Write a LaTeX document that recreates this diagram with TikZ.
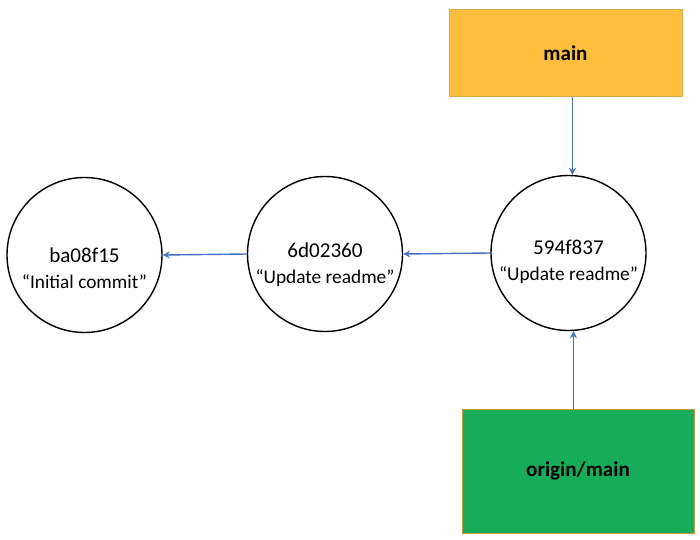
\documentclass[tikz,border=0pt]{standalone}
\usepackage{fontspec}
\setmainfont{Carlito}
\usepackage{xcolor}
\usetikzlibrary{positioning,calc,arrows.meta}

\definecolor{mainfill}{HTML}{FDBF3B}
\definecolor{mainline}{HTML}{D9A949}
\definecolor{originfill}{HTML}{15AD59}
\definecolor{originline}{HTML}{C99A3E}
\definecolor{linkblue}{HTML}{4472C4}

\tikzset{
	commit/.style={draw, circle, line width=0.8pt, minimum size=3.1cm, inner sep=0pt},
	commitlbl/.style={align=center, font=\fontsize{12}{15}\selectfont},
	branch/.style={draw, line width=0.5pt, font=\fontsize{12}{14}\selectfont\bfseries},
	link/.style={draw=linkblue, line width=0.8pt, -{Stealth[length=1.4mm,width=1.4mm]}}
}
\newcommand{\msgfont}{\fontsize{11}{13}\selectfont}

\begin{document}
\begin{tikzpicture}
		\useasboundingbox (0,0) rectangle (14,-10.8);
		\node[commit] (c1) at (1.69,-5.1) {};
		\node[commit] (c2) at (6.5,-5.08) {};
		\node[commit] (c3) at (11.37,-5.06) {};
		\node[commitlbl] (c1lbl) at ([yshift=-0.26cm]c1.center) {ba08f15\\{\msgfont “Initial commit”}};
		\node[commitlbl] (c2lbl) at ([yshift=-0.22cm]c2.center) {6d02360\\{\msgfont “Update readme”}};
		\node[commitlbl] (c3lbl) at ([yshift=-0.18cm]c3.center) {594f837\\{\msgfont “Update readme”}};
		
		\node[branch, fill=mainfill, draw=mainline, minimum width=4.66cm, minimum height=1.74cm] (main) at (11.31,-1.06) {main};
		\node[branch, fill=originfill, draw=originline, minimum width=4.64cm, minimum height=2.48cm] (origin) at (11.56,-9.42) {origin/main};
		
		\draw[link] (c2.west) -- (c1.east);
		\draw[link] (c3.west) -- (c2.east);
		\draw[link] ([xshift=0.08cm]main.south -| c3.north) -- ([xshift=0.08cm]c3.north);
		\draw[link] ([xshift=0.1cm]origin.north -| c3.south) -- ([xshift=0.1cm]c3.south);
	\end{tikzpicture}
\end{document}
